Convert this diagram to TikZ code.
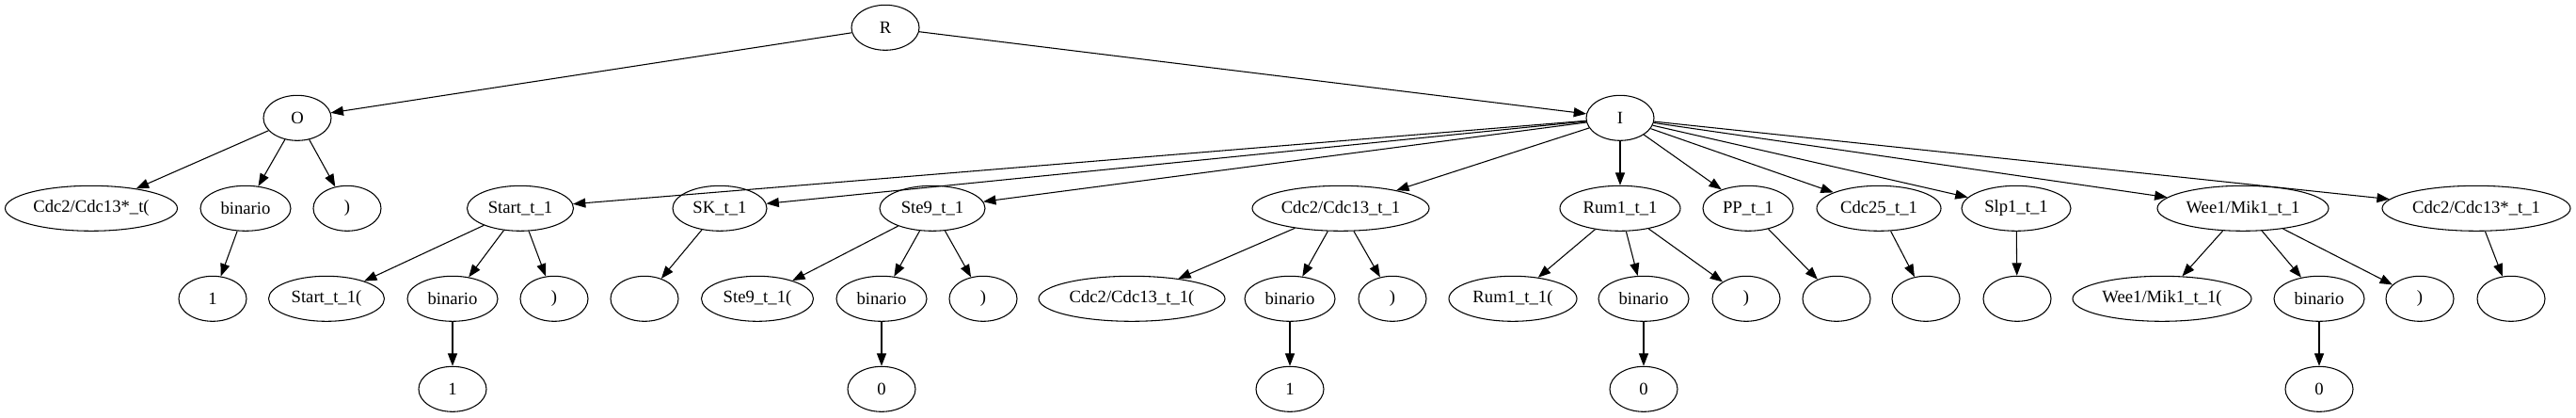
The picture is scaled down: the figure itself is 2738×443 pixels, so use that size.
\documentclass[tikz,border=0pt]{standalone}
\usepackage{fontspec}
\setmainfont{Liberation Serif}
\usepackage{tikz}
\usetikzlibrary{arrows.meta,shapes.geometric}

\begin{document}
\begin{tikzpicture}[
  x=0.75pt, y=-0.75pt,
  every node/.style={font=\fontsize{14}{16}\selectfont},
  >={Triangle[length=10pt,width=7.5pt]},
  tn/.style={draw, ellipse, line width=0.8pt, inner sep=0pt,
    minimum height=36pt, minimum width={#1*0.75pt}},
  tn/.default=72,
  lnk/.style={->, line width=0.8pt},
]

% --- Ranks (px from top) ---
\def\yA{29.3}
\def\yB{125.3}
\def\yC{221.3}
\def\yD{317.3}
\def\yE{413.3}

\useasboundingbox (0,0) rectangle (2738,443);

% --- Root and its two branches ---
\node[tn] (R) at (941,\yA) {R};
\node[tn] (O) at (316,\yB) {O};
\node[tn] (I) at (1722,\yB) {I};

% --- O branch ---
\node[tn=183] (oL) at (97,\yC)  {Cdc2/Cdc13*\_t(};
\node[tn=96]  (oB) at (261,\yC) {binario};
\node[tn]     (oR) at (369,\yC) {)};
\node[tn]     (oV) at (226,\yD) {1};

% --- I children ---
\node[tn=113] (st)  at (553,\yC)  {Start\_t\_1};
\node[tn=100] (sk)  at (765,\yC)  {SK\_t\_1};
\node[tn=112] (s9)  at (991,\yC)  {Ste9\_t\_1};
\node[tn=188] (cc)  at (1425,\yC) {Cdc2/Cdc13\_t\_1};
\node[tn=128] (rm)  at (1722,\yC) {Rum1\_t\_1};
\node[tn=96]  (pp)  at (1858,\yC) {PP\_t\_1};
\node[tn=132] (c25) at (1997,\yC) {Cdc25\_t\_1};
\node[tn=116] (sl)  at (2143,\yC) {Slp1\_t\_1};
\node[tn=182] (wm)  at (2384,\yC) {Wee1/Mik1\_t\_1};
\node[tn=200] (cs)  at (2632,\yC) {Cdc2/Cdc13*\_t\_1};

% --- Third rank ---
\node[tn=123] (stL) at (347,\yD)  {Start\_t\_1(};
\node[tn=96]  (stB) at (481,\yD)  {binario};
\node[tn]     (stR) at (589,\yD)  {)};
\node[tn]     (skE) at (685,\yD)  {};
\node[tn=119] (s9L) at (805,\yD)  {Ste9\_t\_1(};
\node[tn=96]  (s9B) at (937,\yD)  {binario};
\node[tn]     (s9R) at (1045,\yD) {)};
\node[tn=198] (ccL) at (1203,\yD) {Cdc2/Cdc13\_t\_1(};
\node[tn=96]  (ccB) at (1371,\yD) {binario};
\node[tn]     (ccR) at (1480,\yD) {)};
\node[tn=136] (rmL) at (1608,\yD) {Rum1\_t\_1(};
\node[tn=96]  (rmB) at (1747,\yD) {binario};
\node[tn]     (rmR) at (1856,\yD) {)};
\node[tn]     (ppE) at (1952,\yD) {};
\node[tn]     (c25E) at (2047,\yD) {};
\node[tn]     (slE) at (2144,\yD) {};
\node[tn=190] (wmL) at (2298,\yD) {Wee1/Mik1\_t\_1(};
\node[tn=96]  (wmB) at (2465,\yD) {binario};
\node[tn]     (wmR) at (2572,\yD) {)};
\node[tn]     (csE) at (2669,\yD) {};

% --- Binary values ---
\node[tn] (stV) at (481,\yE)  {1};
\node[tn] (s9V) at (937,\yE)  {0};
\node[tn] (ccV) at (1371,\yE) {1};
\node[tn] (rmV) at (1747,\yE) {0};
\node[tn] (wmV) at (2465,\yE) {0};

% --- Edges ---
\foreach \a/\b in {R/O, R/I, O/oL, O/oB, O/oR, oB/oV,
                   I/st, I/sk, I/s9, I/cc, I/rm, I/pp, I/c25, I/sl, I/wm, I/cs,
                   sk/skE, pp/ppE, c25/c25E, sl/slE, cs/csE} {
  \draw[lnk] (\a) -- (\b);
}
\foreach \p in {st, s9, cc, rm, wm} {
  \draw[lnk] (\p) -- (\p L);
  \draw[lnk] (\p) -- (\p B);
  \draw[lnk] (\p) -- (\p R);
  \draw[lnk] (\p B) -- (\p V);
}

\end{tikzpicture}
\end{document}
